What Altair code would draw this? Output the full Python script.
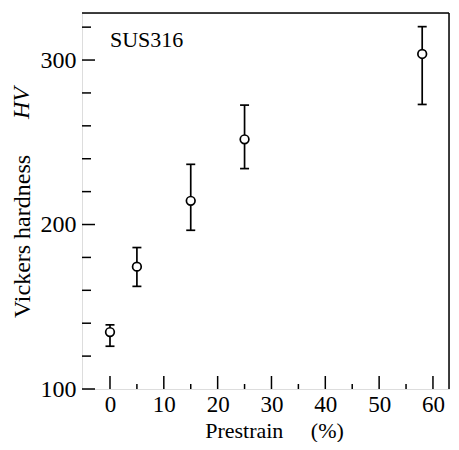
import altair as alt
import pandas as pd

# Data
strain = [0, 5, 15, 25, 58]
hv_mean = [134.6, 174.4, 214.4, 251.8, 303.7]
hv_low = [126, 162.4, 196.5, 234, 273]
hv_high = [139, 186, 236.6, 272.6, 320.3]

x_major = [0, 10, 20, 30, 40, 50, 60]
x_minor = [5, 15, 25, 35, 45, 55]
y_major = [100, 200, 300]
y_minor = [120, 140, 160, 180, 220, 240, 260, 280, 320]

df = pd.DataFrame({"strain": strain, "hv": hv_mean, "lo": hv_low, "hi": hv_high})

FONT = "Liberation Serif"
W, H = 367, 376

xs = alt.Scale(domain=[-5.2, 62.98], nice=False, zero=False)
ys = alt.Scale(domain=[100, 328.6], nice=False, zero=False)

xax = alt.Axis(values=x_major, format="d", ticks=False, domain=False, grid=False,
               labelFont=FONT, labelFontSize=23, labelColor="black", labelPadding=4,
               title="Prestrain\u00a0\u00a0\u00a0\u00a0\u00a0(%)", titleFont=FONT, titleFontSize=22,
               titleFontWeight="normal", titleColor="black", titleX=192, titleY=48,
               titleBaseline="alphabetic", titleAlign="center")
yax = alt.Axis(values=y_major, format="d", ticks=False, domain=False, grid=False,
               labelFont=FONT, labelFontSize=24, labelColor="black", labelPadding=6,
               title="Vickers hardness", titleFont=FONT, titleFontSize=24,
               titleFontWeight="normal", titleColor="black", titleX=-60, titleY=223,
               titleAngle=270, titleAlign="center", titleBaseline="middle")

base = alt.Chart(df)

bars = base.mark_rule(color="black", strokeWidth=1.7).encode(
    x=alt.X("strain:Q", scale=xs, axis=xax),
    y=alt.Y("lo:Q", scale=ys, axis=yax),
    y2="hi:Q",
)
cap_lo = base.mark_tick(orient="horizontal", color="black", size=9, thickness=1.7, opacity=1).encode(
    x=alt.X("strain:Q", scale=xs), y=alt.Y("lo:Q", scale=ys))
cap_hi = base.mark_tick(orient="horizontal", color="black", size=9, thickness=1.7, opacity=1).encode(
    x=alt.X("strain:Q", scale=xs), y=alt.Y("hi:Q", scale=ys))
pts = base.mark_point(shape="circle", filled=True, fill="white", stroke="black",
                      strokeWidth=1.7, size=75, opacity=1).encode(
    x=alt.X("strain:Q", scale=xs), y=alt.Y("hv:Q", scale=ys))

# inward ticks
xmaj = alt.Chart(pd.DataFrame({"v": x_major})).mark_rule(color="black", strokeWidth=1.5).encode(
    x=alt.X("v:Q", scale=xs), y=alt.value(H), y2=alt.value(H - 13))
xmin = alt.Chart(pd.DataFrame({"v": x_minor})).mark_rule(color="black", strokeWidth=1.5).encode(
    x=alt.X("v:Q", scale=xs), y=alt.value(H), y2=alt.value(H - 5))
ymaj = alt.Chart(pd.DataFrame({"v": y_major})).mark_rule(color="black", strokeWidth=1.5).encode(
    y=alt.Y("v:Q", scale=ys), x=alt.value(0), x2=alt.value(13))
ymin = alt.Chart(pd.DataFrame({"v": y_minor})).mark_rule(color="black", strokeWidth=1.5).encode(
    y=alt.Y("v:Q", scale=ys), x=alt.value(0), x2=alt.value(9))

# frame edges (right and top) drawn explicitly
right_edge = alt.Chart(pd.DataFrame({"k": [0]})).mark_rule(color="black", strokeWidth=1.5).encode(
    x=alt.value(W), y=alt.value(0), y2=alt.value(H))
top_edge = alt.Chart(pd.DataFrame({"k": [0]})).mark_rule(color="black", strokeWidth=1.5).encode(
    x=alt.value(0), x2=alt.value(W), y=alt.value(0))

hv_label = alt.Chart(pd.DataFrame({"t": ["HV"]})).mark_text(
    font=FONT, fontSize=24, fontStyle="italic", angle=270, color="black",
    align="center", baseline="middle").encode(
    text="t:N", x=alt.value(-60), y=alt.value(90))

sus = alt.Chart(pd.DataFrame({"t": ["SUS316"]})).mark_text(
    font=FONT, fontSize=22, color="black", align="left", baseline="middle").encode(
    text="t:N", x=alt.value(28), y=alt.value(27))

chart = alt.layer(bars, cap_lo, cap_hi, pts, xmaj, xmin, ymaj, ymin, right_edge, top_edge,
                  hv_label, sus).properties(
    width=W, height=H,
    autosize=alt.AutoSizeParams(type="none"),
    padding={"left": 74, "top": 5, "right": 2, "bottom": 53},
).configure_view(stroke="black", strokeWidth=1.6).configure(background="white")

chart.save("out.html", embed_options={"renderer": "svg", "actions": False})
